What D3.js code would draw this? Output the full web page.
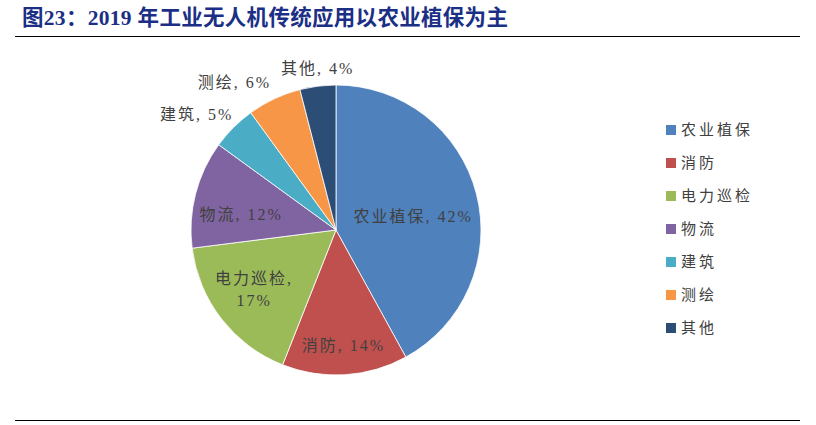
<!DOCTYPE html>
<html>
<head>
<meta charset="utf-8">
<script src="https://cdn.jsdelivr.net/npm/d3@7"></script>
<style>
  body { margin: 0; background: #fff; }
  svg { display: block; }
</style>
</head>
<body>
<div class="pie_chart"></div>
<script>
// chart data
const categories = ["农业植保", "消防", "电力巡检", "物流", "建筑", "测绘", "其他"];
const shares = [42, 14, 17, 12, 5, 6, 4];
const colors = ["#4f81bd", "#c0504d", "#9bbb59", "#8064a2", "#4bacc6", "#f79646", "#2c4d75"];
const titleText = "图23：2019 年工业无人机传统应用以农业植保为主";

// label layout: radius from centre, anchor, nudge, two lines or not
const labelLayout = [
  {r: 0.55, anchor: "middle", dx: 0, dy: 6, wrap: false},
  {r: 0.80, anchor: "middle", dx: 0, dy: 0, wrap: false},
  {r: 0.68, anchor: "middle", dx: -4, dy: -12, wrap: true},
  {r: 0.76, anchor: "middle", dx: 12, dy: 12, wrap: false},
  {r: 1.09, anchor: "end", dx: 9, dy: -4, wrap: false},
  {r: 1.10, anchor: "end", dx: 3, dy: -3, wrap: false},
  {r: 1.12, anchor: "middle", dx: 2, dy: 0, wrap: false}
];

const width = 816, height = 425;
const cx = 336, cy = 230, radius = 145;

const svg = d3.select(".pie_chart")
  .append("svg")
  .attr("width", width)
  .attr("height", height);

// title and rules
svg.append("text")
  .attr("x", 22)
  .attr("y", 25)
  .style("font-family", "'Liberation Serif', 'Noto Sans CJK SC', serif")
  .style("font-weight", "bold")
  .style("font-size", "21.5px")
  .style("letter-spacing", "0.3px")
  .style("fill", "#1b2f86")
  .text(titleText);

svg.append("line")
  .attr("x1", 15).attr("x2", 800)
  .attr("y1", 36.5).attr("y2", 36.5)
  .attr("stroke", "#000").attr("stroke-width", 1.2);

svg.append("line")
  .attr("x1", 15).attr("x2", 800)
  .attr("y1", 420.5).attr("y2", 420.5)
  .attr("stroke", "#000").attr("stroke-width", 1.2);

const data = categories.map((c, i) => ({name: c, value: shares[i], color: colors[i], layout: labelLayout[i]}));

const pie = d3.pie()
  .value(d => d.value)
  .sort(null);

const arc = d3.arc()
  .innerRadius(0)
  .outerRadius(radius);

const g = svg.append("g")
  .attr("transform", `translate(${cx},${cy})`);

const arcs = pie(data);

g.selectAll("path")
  .data(arcs)
  .enter()
  .append("path")
  .attr("d", arc)
  .attr("fill", d => d.data.color)
  .attr("stroke", "#fff")
  .attr("stroke-width", 0.8);

// labels
const labelFont = "'Liberation Serif', 'Noto Sans CJK SC', serif";

arcs.forEach(d => {
  const L = d.data.layout;
  const mid = (d.startAngle + d.endAngle) / 2;
  const r = radius * L.r;
  const x = Math.sin(mid) * r + L.dx;
  const y = -Math.cos(mid) * r + L.dy;
  const t = g.append("text")
    .attr("x", x)
    .attr("y", y)
    .attr("text-anchor", L.anchor)
    .attr("dominant-baseline", "central")
    .style("font-family", labelFont)
    .style("font-size", "16px")
    .style("letter-spacing", "2px")
    .style("fill", "#404040");
  if (L.wrap) {
    t.append("tspan").attr("x", x).text(d.data.name + ",");
    t.append("tspan").attr("x", x).attr("dy", 22).text(d.data.value + "%");
  } else {
    t.text(d.data.name + ", " + d.data.value + "%");
  }
});

// legend
const legend = svg.append("g")
  .attr("transform", "translate(666,130)");

const items = legend.selectAll("g")
  .data(data)
  .enter()
  .append("g")
  .attr("transform", (d, i) => `translate(0,${i * 33})`);

items.append("rect")
  .attr("x", 0).attr("y", -5)
  .attr("width", 10).attr("height", 10)
  .attr("fill", d => d.color);

items.append("text")
  .attr("x", 15)
  .attr("y", 0)
  .attr("dominant-baseline", "central")
  .style("font-family", labelFont)
  .style("font-size", "15px")
  .style("letter-spacing", "3px")
  .style("fill", "#404040")
  .text(d => d.name);
</script>
</body>
</html>
